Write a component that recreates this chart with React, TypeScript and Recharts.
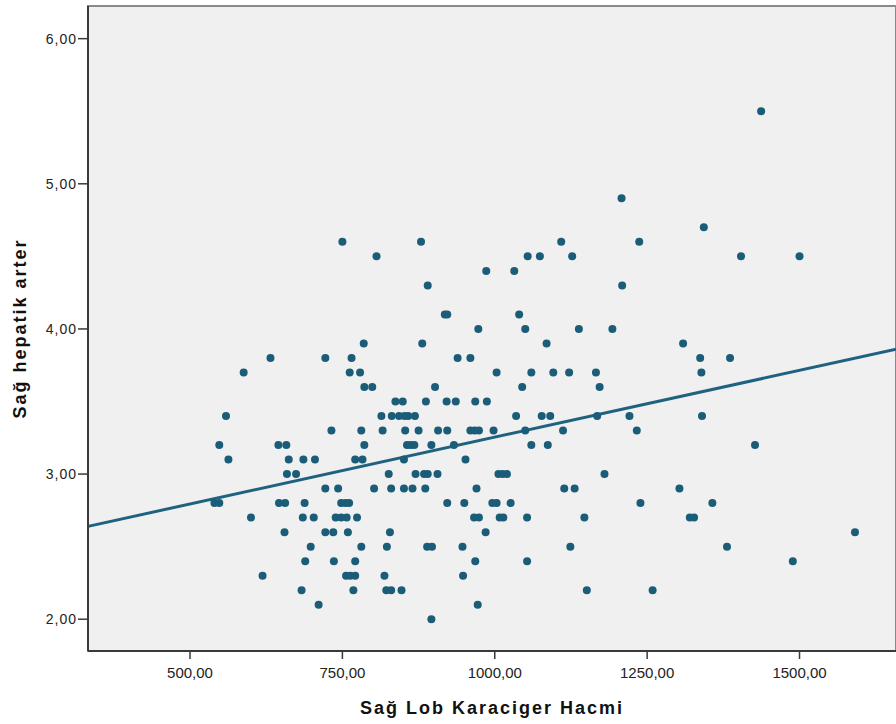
import React from "react";
import {
  ScatterChart,
  Scatter,
  XAxis,
  YAxis,
  CartesianGrid,
  ReferenceLine,
  ReferenceArea,
} from "recharts";

// Sağ Lob Karaciger Hacmi (x) and Sağ hepatik arter (y)
const lobeVolume = [
  750, 806, 785, 632, 722, 765, 588, 762, 779, 786, 799, 559, 814,
  732, 781, 816, 548, 645, 658, 786, 563, 662, 686, 705, 771, 783, 659, 674,
  722, 743, 802, 540, 548, 646, 656, 688, 748, 755, 761, 600, 685, 703, 739,
  748, 757, 774, 655, 722, 735, 759, 698, 781, 823, 689, 736, 771, 619, 756,
  763, 771, 819, 683, 768, 822, 711,
  879, 1054, 1074, 1109, 1127, 986, 1032, 890, 918, 922, 1040, 973, 1050,
  1138, 881, 1085, 939, 960, 1003, 1060, 1096, 1122, 902, 1045, 837, 849, 887,
  921, 936, 968, 987, 831, 843, 852, 858, 869, 1035, 1077, 1091,
  853, 875, 907, 922, 960, 967, 974, 998, 1050, 1112, 856, 862, 868, 896, 933,
  1060, 1087, 851, 952, 826, 870, 884, 890, 906, 1006, 1013, 1020, 830, 851,
  865, 886, 970, 1114, 1131, 922, 950, 996, 1003, 1026, 966, 974, 1008, 1014,
  1053, 828, 985, 889, 897, 947, 1124, 968, 1053, 948, 830, 847, 972, 896,
  1208, 1343, 1237, 1404, 1209, 1193, 1309, 1337, 1386, 1166, 1339, 1172, 1168,
  1221, 1340, 1233, 1427, 1180, 1303, 1239, 1357, 1147, 1320, 1327, 1381, 1151,
  1259, 1437, 1500, 1591, 1489,
];

const hepaticArtery = [
  4.6, 4.5, 3.9, 3.8, 3.8, 3.8, 3.7, 3.7, 3.7, 3.6, 3.6, 3.4, 3.4,
  3.3, 3.3, 3.3, 3.2, 3.2, 3.2, 3.2, 3.1, 3.1, 3.1, 3.1, 3.1, 3.1, 3.0, 3.0,
  2.9, 2.9, 2.9, 2.8, 2.8, 2.8, 2.8, 2.8, 2.8, 2.8, 2.8, 2.7, 2.7, 2.7, 2.7,
  2.7, 2.7, 2.7, 2.6, 2.6, 2.6, 2.6, 2.5, 2.5, 2.5, 2.4, 2.4, 2.4, 2.3, 2.3,
  2.3, 2.3, 2.3, 2.2, 2.2, 2.2, 2.1,
  4.6, 4.5, 4.5, 4.6, 4.5, 4.4, 4.4, 4.3, 4.1, 4.1, 4.1, 4.0, 4.0,
  4.0, 3.9, 3.9, 3.8, 3.8, 3.7, 3.7, 3.7, 3.7, 3.6, 3.6, 3.5, 3.5, 3.5,
  3.5, 3.5, 3.5, 3.5, 3.4, 3.4, 3.4, 3.4, 3.4, 3.4, 3.4, 3.4,
  3.3, 3.3, 3.3, 3.3, 3.3, 3.3, 3.3, 3.3, 3.3, 3.3, 3.2, 3.2, 3.2, 3.2, 3.2,
  3.2, 3.2, 3.1, 3.1, 3.0, 3.0, 3.0, 3.0, 3.0, 3.0, 3.0, 3.0, 2.9, 2.9,
  2.9, 2.9, 2.9, 2.9, 2.9, 2.8, 2.8, 2.8, 2.8, 2.8, 2.7, 2.7, 2.7, 2.7,
  2.7, 2.6, 2.6, 2.5, 2.5, 2.5, 2.5, 2.4, 2.4, 2.3, 2.2, 2.2, 2.1, 2.0,
  4.9, 4.7, 4.6, 4.5, 4.3, 4.0, 3.9, 3.8, 3.8, 3.7, 3.7, 3.6, 3.4,
  3.4, 3.4, 3.3, 3.2, 3.0, 2.9, 2.8, 2.8, 2.7, 2.7, 2.7, 2.5, 2.2,
  2.2, 5.5, 4.5, 2.6, 2.4,
];

const xTicks = [500, 750, 1000, 1250, 1500];
const yTicks = [2, 3, 4, 5, 6];
const xDomain = [332.6, 1658.3];
const yDomain = [1.781, 6.225];

const points = lobeVolume.map((x, i) => ({ x, y: hepaticArtery[i] }));

// ordinary least squares fit line
const n = points.length;
const meanX = points.reduce((s, p) => s + p.x, 0) / n;
const meanY = points.reduce((s, p) => s + p.y, 0) / n;
const slope =
  points.reduce((s, p) => s + (p.x - meanX) * (p.y - meanY), 0) /
  points.reduce((s, p) => s + (p.x - meanX) ** 2, 0);
const intercept = meanY - slope * meanX;
const fitSegment = xDomain.map((x) => ({ x, y: intercept + slope * x }));

const fmt = (v: number) => v.toFixed(2).replace(".", ",");
const dotColor = "#1b5d78";
const font = "'Liberation Sans', Arial, sans-serif";

const Dot = (props: any) => (
  <circle cx={props.cx} cy={props.cy} r={4} fill={dotColor} />
);

export default function App() {
  return (
    <div style={{ position: "absolute", left: 0, top: 0, background: "#fff" }}>
      <ScatterChart
        width={896}
        height={724}
        margin={{ top: 6, right: 0, bottom: 0, left: 0 }}
        style={{ fontFamily: font }}
      >
        <CartesianGrid fill="#f0f0f0" horizontal={false} vertical={false} />
        <ReferenceArea
          x1={xDomain[0]}
          x2={xDomain[1]}
          y1={yDomain[0]}
          y2={yDomain[1]}
          fill="none"
          stroke="#8a8a8a"
          strokeWidth={2}
        />
        <XAxis
          type="number"
          dataKey="x"
          domain={xDomain}
          ticks={xTicks}
          tickFormatter={fmt}
          allowDataOverflow
          height={73}
          tickSize={8}
          tickMargin={8}
          axisLine={{ stroke: "#3a3a3a", strokeWidth: 2 }}
          tickLine={{ stroke: "#3a3a3a", strokeWidth: 1.5 }}
          tick={{ fill: "#222", fontSize: 15, fontFamily: font }}
          label={{
            value: "Sağ Lob Karaciger Hacmi",
            position: "insideBottom",
            offset: 10,
            style: {
              fontSize: 18,
              fontWeight: "bold",
              fill: "#111",
              letterSpacing: 2,
              fontFamily: font,
            },
          }}
        />
        <YAxis
          type="number"
          dataKey="y"
          domain={yDomain}
          ticks={yTicks}
          tickFormatter={fmt}
          allowDataOverflow
          width={88}
          tickSize={10}
          tickMargin={1}
          axisLine={{ stroke: "#3a3a3a", strokeWidth: 2 }}
          tickLine={{ stroke: "#3a3a3a", strokeWidth: 1.5 }}
          tick={{ fill: "#222", fontSize: 14, letterSpacing: 1, fontFamily: font }}
          label={{
            value: "Sağ hepatik arter",
            angle: -90,
            position: "insideLeft",
            offset: 20,
            style: {
              fontSize: 18,
              fontWeight: "bold",
              fill: "#111",
              textAnchor: "middle",
              letterSpacing: 2,
              fontFamily: font,
            },
          }}
        />
        <ReferenceLine segment={fitSegment} stroke="#1f6280" strokeWidth={3} />
        <Scatter data={points} shape={Dot} isAnimationActive={false} />
      </ScatterChart>
    </div>
  );
}
